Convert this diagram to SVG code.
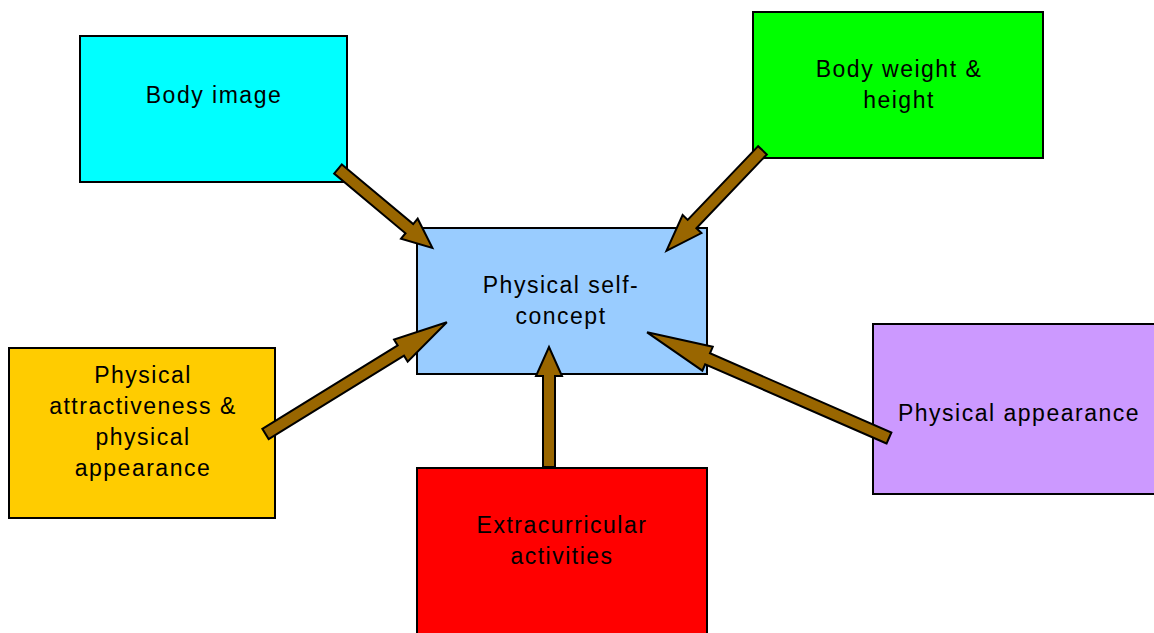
<svg xmlns="http://www.w3.org/2000/svg" width="1154" height="633" viewBox="0 0 1154 633">
<style>
.box{stroke:#000;stroke-width:2}
.t{font-family:"Liberation Sans",Arial,sans-serif;font-size:23px;letter-spacing:1.5px;fill:#000;text-anchor:middle}
.arr{fill:#996600;stroke:#000;stroke-width:2;stroke-linejoin:miter}
</style>
<rect width="1154" height="633" fill="#fff"/>
<g id="body-image">
<rect class="box" x="80" y="36" width="267" height="146" fill="#00FFFF"/>
<text class="t" x="214" y="103">Body image</text>
</g>
<g id="body-weight">
<rect class="box" x="753" y="12" width="290" height="146" fill="#00FF00"/>
<text class="t" x="899" y="77">Body weight &amp;</text>
<text class="t" x="899" y="108">height</text>
</g>
<g id="self-concept">
<rect class="box" x="417" y="228" width="290" height="146" fill="#99CCFF"/>
<text class="t" x="561" y="293">Physical self-</text>
<text class="t" x="561" y="324">concept</text>
</g>
<g id="attractiveness">
<rect class="box" x="9" y="348" width="266" height="170" fill="#FFCC00"/>
<text class="t" x="143" y="383">Physical</text>
<text class="t" x="143" y="414">attractiveness &amp;</text>
<text class="t" x="143" y="445">physical</text>
<text class="t" x="143" y="476">appearance</text>
</g>
<g id="extracurricular">
<rect class="box" x="417" y="468" width="290" height="175" fill="#FF0000"/>
<text class="t" x="562" y="533">Extracurricular</text>
<text class="t" x="562" y="564">activities</text>
</g>
<g id="appearance">
<rect class="box" x="873" y="324" width="290" height="170" fill="#CC99FF"/>
<text class="t" x="1019" y="421">Physical appearance</text>
</g>
<g id="connectors">
<polygon class="arr" transform="translate(338,169) rotate(39.9)" points="0,-6 93,-6 93,-13 123,0 93,13 93,6 0,6"/>
<polygon class="arr" transform="translate(762.5,150.3) rotate(133.7)" points="0,-6 102,-6 102,-13 139,0 102,13 102,6 0,6"/>
<polygon class="arr" transform="translate(265.5,434) rotate(-31.65)" points="0,-6 159,-6 159,-13 213,0 159,13 159,6 0,6"/>
<polygon class="arr" transform="translate(549,467) rotate(-90)" points="0,-6 91,-6 91,-13 120,0 91,13 91,6 0,6"/>
<polygon class="arr" transform="translate(889,438) rotate(-156.4)" points="0,-6 198,-6 198,-13 264,0 198,13 198,6 0,6"/>
</g>
</svg>
